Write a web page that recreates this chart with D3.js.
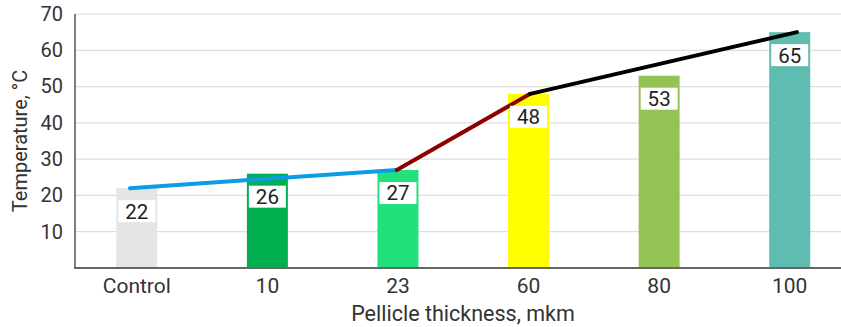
<!DOCTYPE html>
<html>
<head>
<meta charset="utf-8">
<script src="https://cdn.jsdelivr.net/npm/d3@7/dist/d3.min.js"></script>
<style>
  html, body { margin: 0; padding: 0; background: #fff; }
  svg { display: block; font-family: Roboto, "Noto Sans", sans-serif; }
</style>
</head>
<body>
<svg id="chart" width="841" height="327"></svg>
<script>
// ---- data ----
const categories = ["Control", "10", "23", "60", "80", "100"];
const values = [22, 26, 27, 48, 53, 65];
const barColors = ["#e5e5e5", "#00b050", "#22e07a", "#ffff00", "#92c353", "#5fbcb0"];
const yTicks = [10, 20, 30, 40, 50, 60, 70];
const lineSegments = [
  { color: "#0a9de6", points: [["Control", 22], ["23", 27]] },
  { color: "#8b0000", points: [["23", 27], ["60", 48]] },
  { color: "#000000", points: [["60", 48], ["100", 65]] }
];
const xTitle = "Pellicle thickness, mkm";
const yTitle = "Temperature, °C";

// ---- layout ----
const svg = d3.select("#chart");
const plotLeft = 75, plotRight = 841, plotTop = 14, plotBottom = 268;

const y = d3.scaleLinear().domain([0, 70]).range([plotBottom, plotTop]);
const x = d3.scaleBand().domain(categories).range([71.5, 855])
  .paddingInner(0.686).paddingOuter(0.343);
const xLine = d3.scalePoint().domain(categories).range([130, 797]);

// gridlines
svg.append("g")
  .selectAll("line")
  .data(yTicks)
  .join("line")
  .attr("x1", plotLeft).attr("x2", plotRight)
  .attr("y1", d => y(d)).attr("y2", d => y(d))
  .attr("stroke", "#dedede").attr("stroke-width", 1.2);

// bars
svg.append("g")
  .selectAll("rect")
  .data(categories)
  .join("rect")
  .attr("x", d => x(d))
  .attr("width", x.bandwidth())
  .attr("y", (d, i) => y(values[i]))
  .attr("height", (d, i) => plotBottom - y(values[i]))
  .attr("fill", (d, i) => barColors[i]);

// lines
const lineGen = d3.line().x(d => xLine(d[0])).y(d => y(d[1]));
svg.append("g")
  .selectAll("path")
  .data(lineSegments)
  .join("path")
  .attr("d", d => lineGen(d.points))
  .attr("fill", "none")
  .attr("stroke", d => d.color)
  .attr("stroke-width", 4)
  .attr("stroke-linecap", "round");

// value labels
const labels = svg.append("g")
  .selectAll("g")
  .data(categories)
  .join("g")
  .attr("transform", (d, i) => `translate(${x(d) + x.bandwidth() / 2},${y(values[i]) + 23})`);
labels.append("rect")
  .attr("x", -18.5).attr("y", -11).attr("width", 37).attr("height", 22)
  .attr("fill", "#fff");
labels.append("text")
  .attr("text-anchor", "middle")
  .attr("dy", "0.36em")
  .attr("font-size", 20.5)
  .attr("fill", "#222")
  .text((d, i) => values[i]);

// y axis
const yAxis = d3.axisLeft(y).tickValues(yTicks).tickSize(0).tickPadding(12);
const gy = svg.append("g").attr("transform", `translate(${plotLeft},0)`).call(yAxis);
gy.select(".domain").remove();
gy.selectAll("text").attr("font-size", 20).attr("fill", "#333").attr("font-family", "Roboto, sans-serif");
svg.append("line")
  .attr("x1", plotLeft).attr("x2", plotLeft)
  .attr("y1", plotTop).attr("y2", plotBottom)
  .attr("stroke", "#555").attr("stroke-width", 1.5);

// x axis
const xAxis = d3.axisBottom(x).tickSize(0).tickPadding(10);
const gx = svg.append("g").attr("transform", `translate(0,${plotBottom})`).call(xAxis);
gx.select(".domain").remove();
gx.selectAll("text").attr("font-size", 21).attr("fill", "#333").attr("font-family", "Roboto, sans-serif");
svg.append("line")
  .attr("x1", plotLeft - 1).attr("x2", plotRight)
  .attr("y1", plotBottom).attr("y2", plotBottom)
  .attr("stroke", "#666").attr("stroke-width", 2);

// titles
svg.append("text")
  .attr("x", 463).attr("y", 321)
  .attr("text-anchor", "middle")
  .attr("font-size", 21.5).attr("fill", "#333")
  .text(xTitle);
svg.append("text")
  .attr("transform", "translate(27,141) rotate(-90)")
  .attr("text-anchor", "middle")
  .attr("font-size", 20).attr("fill", "#333")
  .text(yTitle);
</script>
</body>
</html>
